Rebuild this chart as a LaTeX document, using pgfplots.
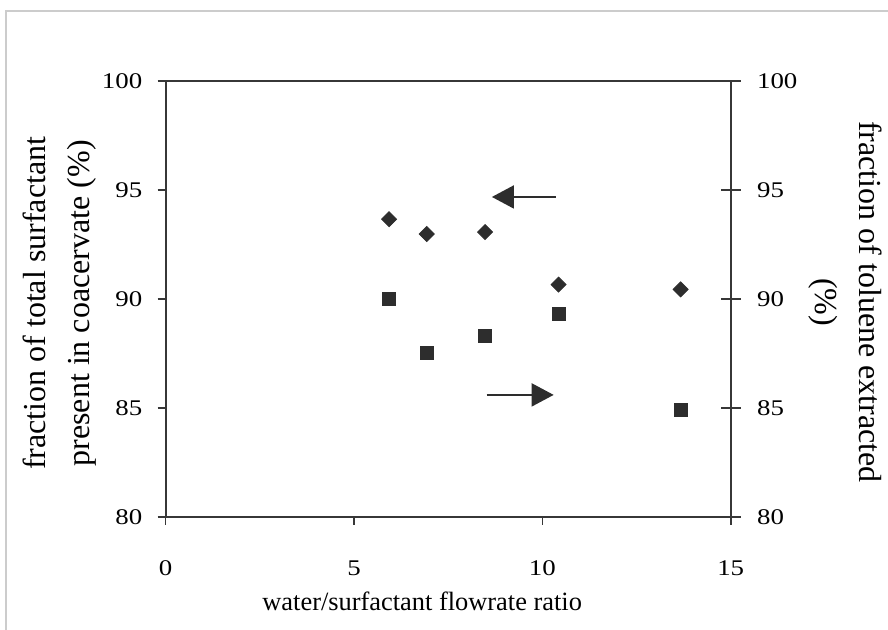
\documentclass[border=0pt]{standalone}
\usepackage{fontspec}
\setmainfont{Liberation Serif}
\newfontfamily\wideserif{Liberation Serif}[FakeStretch=1.2]
\usepackage{pgfplots}
\pgfplotsset{compat=1.18}
\usetikzlibrary{arrows.meta}
\definecolor{inkgray}{RGB}{45,45,45}
\definecolor{axisgray}{RGB}{55,55,55}

\begin{document}
\begin{tikzpicture}
\useasboundingbox (-82.85pt,-56.5pt) rectangle (361.15pt,258.5pt);
% light frame round the chart
\draw[gray!40, line width=0.6pt] (-79.85pt,-90pt) -- (-79.85pt,253pt) -- (420pt,253pt);

\pgfplotsset{
  every axis/.append style={
    scale only axis, width=282.5pt, height=218pt,
    xmin=0, xmax=15, ymin=80, ymax=100,
    /pgf/number format/assume math mode=true,
    ticklabel style={font=\wideserif\fontsize{11.2}{13}\selectfont, inner sep=0pt},
    axis line style={axisgray, line width=1pt},
    every tick/.style={axisgray, line width=0.8pt},
  }
}

% left axis: surfactant in coacervate
\begin{axis}[
    at={(0,0)}, anchor=south west,
    xtick={0,5,10,15}, ytick={80,85,90,95,100},
    xtick pos=bottom, ytick pos=left,
    tick align=outside, major tick length=4pt,
    xticklabel style={anchor=base, yshift=-25.5pt},
    yticklabel style={anchor=east, xshift=-7.5pt},
    xlabel={water/surfactant flowrate ratio},
    xlabel style={font=\fontsize{13.2}{15}\selectfont,
      at={(axis description cs:0.454,0)}, anchor=base, yshift=-47pt},
    ylabel={fraction of total surfactant\\present in coacervate (\%)},
    ylabel style={align=center, font=\fontsize{16}{22}\selectfont,
      at={(axis description cs:-0.1885,0.49)}, anchor=center},
]
\addplot[only marks, mark=square*, mark size=2.65pt,
  mark options={rotate=45, fill=inkgray, draw=inkgray}] coordinates {
  (5.93,93.66) (6.93,92.98) (8.48,93.07) (10.43,90.66) (13.67,90.44)
};
\draw[inkgray, line width=0.9pt, -{Triangle[length=11pt,width=11.5pt]}]
  (axis cs:10.36,94.68) -- (axis cs:8.66,94.68);
\end{axis}

% right axis: toluene extracted
\begin{axis}[
    at={(0,0)}, anchor=south west,
    axis x line=none, axis y line*=right,
    ytick={80,85,90,95,100},
    tick align=center, major tick length=10pt,
    yticklabel style={anchor=west, xshift=8pt},
    ylabel={fraction of toluene extracted\\(\%)},
    ylabel style={align=center, rotate=180, font=\fontsize{16}{22}\selectfont,
      at={(axis description cs:1.2024,0.493)}, anchor=center},
]
\addplot[only marks, mark=square*, mark size=3.25pt,
  mark options={fill=inkgray, draw=inkgray}] coordinates {
  (5.93,90.01) (6.93,87.53) (8.48,88.30) (10.43,89.31) (13.67,84.91)
};
\draw[inkgray, line width=0.9pt, -{Triangle[length=11pt,width=11.5pt]}]
  (axis cs:8.52,85.60) -- (axis cs:10.30,85.60);
\end{axis}
\end{tikzpicture}
\end{document}
